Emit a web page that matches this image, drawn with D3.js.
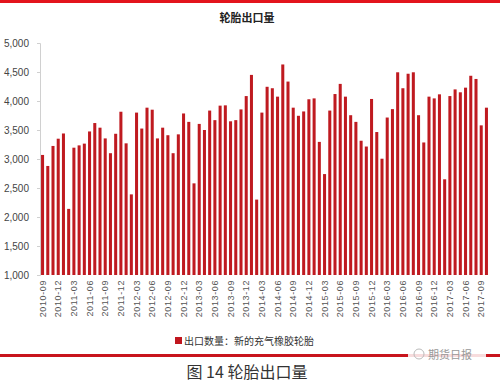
<!DOCTYPE html>
<html><head><meta charset="utf-8">
<script src="https://cdn.jsdelivr.net/npm/d3@7/dist/d3.min.js"></script>
<style>body{margin:0;background:#fff;}svg{display:block;}</style>
</head><body>
<script>
const months = [
"2010-09","2010-10","2010-11","2010-12",
"2011-01","2011-02","2011-03","2011-04","2011-05","2011-06","2011-07","2011-08","2011-09","2011-10","2011-11","2011-12",
"2012-01","2012-02","2012-03","2012-04","2012-05","2012-06","2012-07","2012-08","2012-09","2012-10","2012-11","2012-12",
"2013-01","2013-02","2013-03","2013-04","2013-05","2013-06","2013-07","2013-08","2013-09","2013-10","2013-11","2013-12",
"2014-01","2014-02","2014-03","2014-04","2014-05","2014-06","2014-07","2014-08","2014-09","2014-10","2014-11","2014-12",
"2015-01","2015-02","2015-03","2015-04","2015-05","2015-06","2015-07","2015-08","2015-09","2015-10","2015-11","2015-12",
"2016-01","2016-02","2016-03","2016-04","2016-05","2016-06","2016-07","2016-08","2016-09","2016-10","2016-11","2016-12",
"2017-01","2017-02","2017-03","2017-04","2017-05","2017-06","2017-07","2017-08","2017-09","2017-10"];
const exportVolume = [
3070,2880,3225,3350,
3440,2140,3195,3235,3265,3475,3620,3540,3355,3100,3435,3815,
3270,2390,3800,3525,3885,3850,3355,3540,3410,3100,3425,3785,
3640,2580,3605,3500,3835,3670,3920,3925,3650,3670,3855,4085,
4450,2300,3800,4245,4220,4075,4630,4335,3885,3745,3820,4030,
4045,3295,2740,3835,4120,4295,4075,3755,3640,3315,3215,4035,
3465,3005,3715,3860,4495,4220,4470,4495,3755,3285,4075,4045,
4115,2650,4085,4200,4150,4230,4435,4380,3580,3885];
const xTickLabels = months.filter((m,i)=>i%3===0);
const yTicks = [1000,1500,2000,2500,3000,3500,4000,4500,5000];
const title = "轮胎出口量";
const legendLabel = "出口数量：新的充气橡胶轮胎";
const caption = "图 14 轮胎出口量";
const watermark = "期货日报";

const W=500,H=382;
const svg=d3.select("body").append("svg").attr("width",W).attr("height",H);
const cjk="'Noto Sans CJK SC','Noto Sans',sans-serif";

// top red strip
svg.append("rect").attr("x",0).attr("y",0).attr("width",W).attr("height",3).attr("fill","#e3141c");

svg.append("text").attr("x",247).attr("y",22).attr("text-anchor","middle")
  .attr("font-family",cjk).attr("font-size",11).attr("font-weight","bold").attr("fill","#222").text(title);

const x=d3.scaleBand().domain(months).range([40,489]).paddingInner(0.42).paddingOuter(0.2);
const y=d3.scaleLinear().domain([1000,5000]).range([275,43]);

// y axis
const ya=svg.append("g").attr("transform","translate(40,0)")
  .call(d3.axisLeft(y).tickValues(yTicks).tickFormat(d3.format(",")).tickSize(3));
ya.select(".domain").attr("stroke","#d0d0d0");
ya.selectAll(".tick line").attr("stroke","#d0d0d0");
ya.selectAll("text").attr("font-family","'Liberation Sans',Arial,sans-serif").attr("font-size",10).attr("fill","#444").attr("x",-11);

// bars
svg.append("g").selectAll("rect").data(exportVolume).join("rect")
  .attr("x",(d,i)=>x(months[i])).attr("width",x.bandwidth())
  .attr("y",d=>y(d)).attr("height",d=>y(1000)-y(d))
  .attr("fill","#bf1a20");

// x axis
const xa=svg.append("g").attr("transform","translate(0,275)")
  .call(d3.axisBottom(x).tickValues(xTickLabels).tickSize(0));
xa.select(".domain").remove();
xa.selectAll("text").attr("font-family","'Liberation Sans',Arial,sans-serif").attr("font-size",9).attr("fill","#555")
  .attr("transform","rotate(-90)").attr("text-anchor","end").attr("x",-5).attr("y",0).attr("dy","0.35em")
  .attr("letter-spacing","0.6px");

// legend
svg.append("rect").attr("x",175).attr("y",337).attr("width",7).attr("height",7).attr("fill","#c0161e");
svg.append("text").attr("x",184).attr("y",344.5).attr("font-family",cjk).attr("font-size",10).attr("fill","#333").text(legendLabel);

// bottom red line
svg.append("rect").attr("x",0).attr("y",354).attr("width",W).attr("height",3).attr("fill","#c8141c");
// watermark
svg.append("rect").attr("x",408).attr("y",348).attr("width",78).attr("height",14).attr("fill","#fff").attr("opacity",0.85);
svg.append("circle").attr("cx",419).attr("cy",354).attr("r",5).attr("fill","none").attr("stroke","#bbb").attr("stroke-width",1);
svg.append("text").attr("x",428).attr("y",359).attr("font-family",cjk).attr("font-size",11).attr("fill","#999").text(watermark);

svg.append("text").attr("x",247).attr("y",378).attr("text-anchor","middle")
  .attr("font-family",cjk).attr("font-size",16).attr("fill","#333").text(caption);
</script>
</body></html>
